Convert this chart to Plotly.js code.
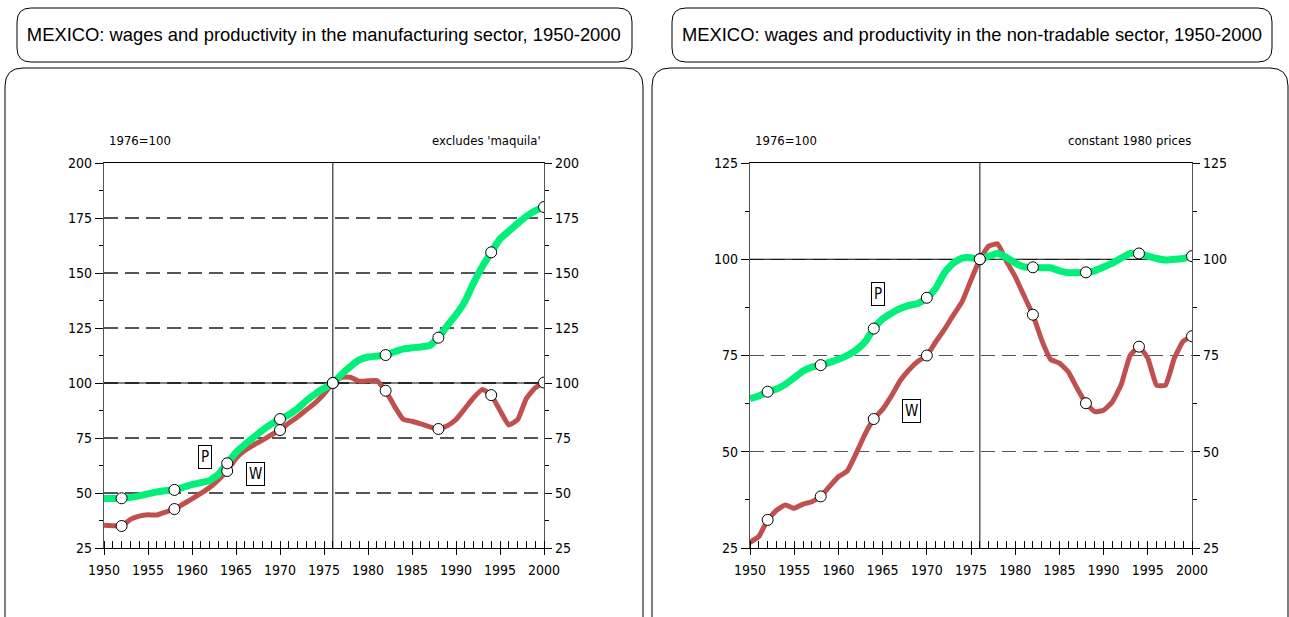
<!DOCTYPE html>
<html><head><meta charset="utf-8">
<script src="https://cdn.plot.ly/plotly-3.0.1.min.js"></script>
<style>html,body{margin:0;padding:0;background:#fff}#chart{width:1289px;height:617px}</style>
</head><body><div id="chart"></div>
<script>
const years = [1950,1951,1952,1953,1954,1955,1956,1957,1958,1959,1960,1961,1962,1963,1964,1965,1966,1967,1968,1969,1970,1971,1972,1973,1974,1975,1976,1977,1978,1979,1980,1981,1982,1983,1984,1985,1986,1987,1988,1989,1990,1991,1992,1993,1994,1995,1996,1997,1998,1999,2000];
const markerYears = [1952,1958,1964,1970,1976,1982,1988,1994,2000];

// Manufacturing sector (1976=100, excludes maquila)
const manufProductivity = [47.5,47.5,47.6,48.0,48.7,49.6,50.5,51.0,51.4,52.6,53.8,54.7,55.6,58.5,63.5,68.5,72.0,75.3,78.5,81.3,83.6,85.6,88.4,92.0,95.0,97.6,100,104.0,107.5,110.5,111.8,112.2,112.7,114.2,115.4,116.0,116.4,117.0,120.6,126.0,131.0,137.0,145.5,153.0,159.4,165.5,169.0,172.5,175.8,178.3,180.0];
const manufWages = [35.3,35.1,35.0,38.0,39.5,40.1,40.0,41.3,42.7,45.0,47.3,49.8,52.5,56.0,60.0,65.8,69.3,71.8,74.0,76.4,78.6,81.8,84.6,87.8,91.0,95.0,100,102.6,102.6,100.8,101.0,101.1,96.5,89.5,83.5,82.6,81.4,80.1,79.1,80.5,83.4,88.3,93.3,97.1,94.5,87.5,80.9,83.3,93.0,97.8,100.2];

// Non-tradable sector (1976=100, constant 1980 prices)
const nontradProductivity = [63.8,64.5,65.6,66.3,67.5,69.2,71.0,72.0,72.5,73.2,74.0,75.0,76.4,78.5,82.0,84.5,86.0,87.2,88.0,88.5,90.0,92.4,96.5,99.0,100.3,100.4,100,100.8,101.5,100.5,99.0,98.0,97.9,97.8,97.8,97.0,96.5,96.5,96.6,97.0,98.0,99.0,100.3,101.5,101.5,100.8,100.2,99.8,100.0,100.2,100.8];
const nontradWages = [26.5,28.0,32.3,34.8,36.2,35.3,36.4,37.0,38.4,41.0,43.5,45.0,49.5,54.5,58.5,61.0,64.5,68.5,71.3,73.5,75.0,78.5,81.8,85.5,89.0,94.6,100,103.4,104.0,99.5,95.5,90.5,85.6,79.0,74.0,73.0,70.8,66.5,62.6,60.4,60.8,63.0,67.5,75.0,77.3,74.3,67.3,67.3,74.3,78.7,80.0];

const titles = ["MEXICO: wages and productivity in the manufacturing sector, 1950-2000",
                "MEXICO: wages and productivity in the non-tradable sector, 1950-2000"];
const baseNote = "1976=100";
const notes = ["excludes 'maquila'", "constant 1980 prices"];
const seriesLabels = ["P","W"];
const baseYear = 1976, baseValue = 100;
const yTicksLeft = [25,50,75,100,125,150,175,200];
const yTicksRight = [25,50,75,100,125];
const xTicks = [1950,1955,1960,1965,1970,1975,1980,1985,1990,1995,2000];

const W = 1289, H = 617;
const px = x => x / W, py = y => 1 - y / H;
const FONT = "'DejaVu Sans Condensed', 'Liberation Sans Narrow', sans-serif";
const TFONT = "'Liberation Sans', Arial, sans-serif";
const GREEN = '#00F07A', RED = '#C0504D';

function rr(x0, y0, x1, y1, r) {
  return `M ${px(x0+r)} ${py(y0)} L ${px(x1-r)} ${py(y0)} Q ${px(x1)} ${py(y0)} ${px(x1)} ${py(y0+r)} ` +
         `L ${px(x1)} ${py(y1-r)} Q ${px(x1)} ${py(y1)} ${px(x1-r)} ${py(y1)} L ${px(x0+r)} ${py(y1)} ` +
         `Q ${px(x0)} ${py(y1)} ${px(x0)} ${py(y1-r)} L ${px(x0)} ${py(y0+r)} Q ${px(x0)} ${py(y0)} ${px(x0+r)} ${py(y0)} Z`;
}

function pick(arr) { return markerYears.map(y => arr[years.indexOf(y)]); }

function lineTrace(y, color, width, xa, ya) {
  return {x: years, y: y, xaxis: xa, yaxis: ya, type: 'scatter', mode: 'lines',
          line: {color: color, width: width, shape: 'spline', smoothing: 0.4},
          hoverinfo: 'skip', showlegend: false};
}
function markTrace(y, xa, ya) {
  return {x: markerYears, y: pick(y), xaxis: xa, yaxis: ya, type: 'scatter', mode: 'markers',
          marker: {symbol: 'circle', size: 11, color: '#fff', line: {color: '#000', width: 1}},
          hoverinfo: 'skip', showlegend: false};
}
function ghost(y, xa, ya) {
  return {x: years, y: y, xaxis: xa, yaxis: ya, type: 'scatter', mode: 'lines',
          line: {width: 0}, opacity: 0, hoverinfo: 'skip', showlegend: false};
}

const data = [
  lineTrace(manufWages, RED, 5, 'x', 'y'),
  lineTrace(manufProductivity, GREEN, 7, 'x', 'y'),
  markTrace(manufWages, 'x', 'y'),
  markTrace(manufProductivity, 'x', 'y'),
  lineTrace(nontradWages, RED, 5, 'x2', 'y2'),
  lineTrace(nontradProductivity, GREEN, 7, 'x2', 'y2'),
  markTrace(nontradWages, 'x2', 'y2'),
  markTrace(nontradProductivity, 'x2', 'y2'),
  ghost(manufWages, 'x3', 'y3'),
  ghost(nontradWages, 'x4', 'y4')
];

const tickfont = {family: FONT, size: 14, color: '#000'};
function xAxis(dom, anchor) {
  return {domain: dom, anchor: anchor, range: [1950, 2000], tickvals: xTicks, ticks: 'outside',
          ticklen: 6, tickcolor: '#000', tickwidth: 1, showline: true, linecolor: '#000', linewidth: 1,
          mirror: true, showgrid: false, zeroline: false, tickfont: tickfont, ticklabelstandoff: 3,
          minor: {ticks: 'inside', dtick: 1, tick0: 1950, ticklen: 7, tickcolor: '#000', tickwidth: 1, showgrid: false},
          fixedrange: true};
}
function xOver(over, anchor) {
  return {overlaying: over, anchor: anchor, range: [1950, 2000], tickvals: xTicks, ticks: 'inside',
          ticklen: 7, tickcolor: '#000', showticklabels: false, showline: false, showgrid: false,
          zeroline: false, side: 'bottom', fixedrange: true};
}
function yAxis(dom, anchor, range, tv) {
  return {domain: dom, anchor: anchor, range: range, tickvals: tv, ticks: 'outside', ticklen: 8,
          tickcolor: '#000', showline: true, linecolor: '#555', linewidth: 1.2, showgrid: true,
          gridcolor: '#555', gridwidth: 1.2, griddash: '14px,7px', zeroline: false, tickfont: tickfont,
          minor: {ticks: 'outside', dtick: 12.5, tick0: 0, ticklen: 4, tickcolor: '#000', showgrid: false},
          fixedrange: true};
}
function yRight(over, anchor, range, tv) {
  return {overlaying: over, anchor: anchor, side: 'right', range: range, tickvals: tv, ticks: 'outside',
          ticklen: 7, tickcolor: '#000', showline: true, linecolor: '#555', linewidth: 1.2, showgrid: false,
          zeroline: false, tickfont: tickfont,
          minor: {ticks: 'outside', dtick: 12.5, tick0: 0, ticklen: 4, tickcolor: '#000', showgrid: false},
          fixedrange: true};
}

const ydom = [py(548), py(163)];
const noteFont = {family: FONT, size: 13, color: '#000'};
const lblFont = {family: FONT, size: 15, color: '#000'};
const layout = {
  width: W, height: H, margin: {l: 0, r: 0, t: 0, b: 0},
  paper_bgcolor: '#fff', plot_bgcolor: 'rgba(0,0,0,0)', showlegend: false,
  font: {family: FONT, color: '#000'},
  xaxis: xAxis([px(104), px(544)], 'y'),
  yaxis: yAxis(ydom, 'x', [25, 200], yTicksLeft),
  xaxis2: xAxis([px(750), px(1192)], 'y2'),
  yaxis2: yAxis(ydom, 'x2', [25, 125], yTicksRight),
  xaxis3: xOver('x', 'y3'),
  yaxis3: yRight('y', 'x', [25, 200], yTicksLeft),
  xaxis4: xOver('x2', 'y4'),
  yaxis4: yRight('y2', 'x2', [25, 125], yTicksRight),
  shapes: [
    {type: 'path', xref: 'paper', yref: 'paper', path: rr(17, 8, 632, 62, 14), line: {color: '#000', width: 1}, layer: 'below'},
    {type: 'path', xref: 'paper', yref: 'paper', path: rr(672, 8, 1272, 62, 14), line: {color: '#000', width: 1}, layer: 'below'},
    {type: 'path', xref: 'paper', yref: 'paper', path: rr(5, 68, 643, 640, 18), line: {color: '#000', width: 1}, layer: 'below'},
    {type: 'path', xref: 'paper', yref: 'paper', path: rr(652, 68, 1288, 640, 18), line: {color: '#000', width: 1}, layer: 'below'},
    {type: 'line', xref: 'x', yref: 'y', x0: 1950, x1: 2000, y0: baseValue, y1: baseValue, line: {color: '#000', width: 1.2}, layer: 'between'},
    {type: 'line', xref: 'x', yref: 'y', x0: baseYear, x1: baseYear, y0: 25, y1: 200, line: {color: '#333', width: 1.2}, layer: 'between'},
    {type: 'line', xref: 'x2', yref: 'y2', x0: 1950, x1: 2000, y0: baseValue, y1: baseValue, line: {color: '#000', width: 1.2}, layer: 'between'},
    {type: 'line', xref: 'x2', yref: 'y2', x0: baseYear, x1: baseYear, y0: 25, y1: 125, line: {color: '#333', width: 1.2}, layer: 'between'}
  ],
  annotations: [
    {xref: 'paper', yref: 'paper', x: px(324.5), y: py(35), text: titles[0], showarrow: false, font: {family: TFONT, size: 19, color: '#000'}, xanchor: 'center', yanchor: 'middle'},
    {xref: 'paper', yref: 'paper', x: px(972), y: py(35), text: titles[1], showarrow: false, font: {family: TFONT, size: 19, color: '#000'}, xanchor: 'center', yanchor: 'middle'},
    {xref: 'paper', yref: 'paper', x: px(107), y: py(140), text: baseNote, showarrow: false, font: noteFont, xanchor: 'left', yanchor: 'middle'},
    {xref: 'paper', yref: 'paper', x: px(753), y: py(140), text: baseNote, showarrow: false, font: noteFont, xanchor: 'left', yanchor: 'middle'},
    {xref: 'paper', yref: 'paper', x: px(543), y: py(140), text: notes[0], showarrow: false, font: noteFont, xanchor: 'right', yanchor: 'middle'},
    {xref: 'paper', yref: 'paper', x: px(1193), y: py(140), text: notes[1], showarrow: false, font: noteFont, xanchor: 'right', yanchor: 'middle'},
    {xref: 'x', yref: 'y', x: 1961.5, y: 66.4, text: seriesLabels[0], showarrow: false, font: lblFont, bordercolor: '#000', borderwidth: 1, borderpad: 2, bgcolor: '#fff'},
    {xref: 'x', yref: 'y', x: 1967.2, y: 58.6, text: seriesLabels[1], showarrow: false, font: lblFont, bordercolor: '#000', borderwidth: 1, borderpad: 2, bgcolor: '#fff'},
    {xref: 'x2', yref: 'y2', x: 1964.5, y: 91, text: seriesLabels[0], showarrow: false, font: lblFont, bordercolor: '#000', borderwidth: 1, borderpad: 2, bgcolor: '#fff'},
    {xref: 'x2', yref: 'y2', x: 1968.3, y: 60.6, text: seriesLabels[1], showarrow: false, font: lblFont, bordercolor: '#000', borderwidth: 1, borderpad: 2, bgcolor: '#fff'}
  ]
};

const titleWidths = [594, 580];
Plotly.newPlot('chart', data, layout, {staticPlot: true, displayModeBar: false}).then(gd => {
  gd.querySelectorAll('text.annotation-text').forEach(t => {
    const i = titles.indexOf(t.textContent);
    if (i >= 0) {
      t.setAttribute('textLength', titleWidths[i]);
      t.setAttribute('lengthAdjust', 'spacingAndGlyphs');
    }
  });
});
</script>
</body></html>
